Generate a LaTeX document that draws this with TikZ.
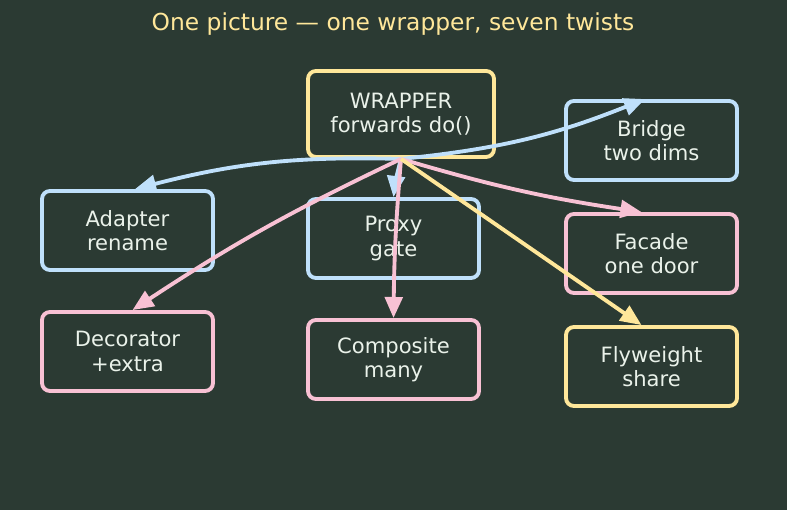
\documentclass[tikz,border=0pt]{standalone}
\usepackage{fontspec}
\setmainfont{DejaVu Sans}
\definecolor{bgDark}{HTML}{2B3A33}
\definecolor{wYellow}{HTML}{FFE79A}
\definecolor{wBlue}{HTML}{BFE0FB}
\definecolor{wPink}{HTML}{F8C1D4}
\definecolor{wText}{HTML}{EAF2EA}
\usetikzlibrary{arrows.meta}

\begin{document}
\begin{tikzpicture}[font=\fontsize{12}{13.8}\selectfont,
  pb/.style={draw=#1, line width=2.2pt, rounded corners=4.5pt, text=wText, align=center, minimum width=3.42cm, minimum height=1.58cm, inner sep=0pt},
  link/.style={draw=#1, line width=2.2pt, -{Triangle[length=12pt,width=10pt]}}]
\fill[bgDark] (0,0) rectangle (15.74,10.2);
\node[wYellow, font=\fontsize{13.3}{15.6}\selectfont] (title) at (7.86,9.72) {One picture — one wrapper, seven twists};
\node[pb=wYellow, minimum width=3.72cm, minimum height=1.72cm] (wrap) at (8.02,7.92) {WRAPPER\\forwards do()};
\node[pb=wBlue] (bridge) at (13.03,7.39) {Bridge\\two dims};
\node[pb=wBlue] (adapter) at (2.55,5.59) {Adapter\\rename};
\node[pb=wBlue] (proxy) at (7.87,5.43) {Proxy\\gate};
\node[pb=wPink] (facade) at (13.03,5.13) {Facade\\one door};
\node[pb=wPink] (decorator) at (2.55,3.17) {Decorator\\+extra};
\node[pb=wPink] (composite) at (7.87,3.01) {Composite\\many};
\node[pb=wYellow] (flyweight) at (13.03,2.87) {Flyweight\\share};
\draw[link=wBlue] (wrap.south) to[bend right=8] ([xshift=0.15cm]adapter.north);
\draw[link=wBlue] (wrap.south) to[bend right=8] ([xshift=-0.13cm]bridge.north);
\draw[link=wBlue] (wrap.south) to[bend right=4] (proxy.north);
\draw[link=wPink] (wrap.south) to[bend right=4] ([xshift=0.1cm]decorator.north);
\draw[link=wPink] (wrap.south) to[bend right=2] (composite.north);
\draw[link=wPink] (wrap.south) to[bend right=4] ([xshift=-0.2cm]facade.north);
\draw[link=wYellow] (wrap.south) -- ([xshift=-0.2cm]flyweight.north);
\end{tikzpicture}
\end{document}
